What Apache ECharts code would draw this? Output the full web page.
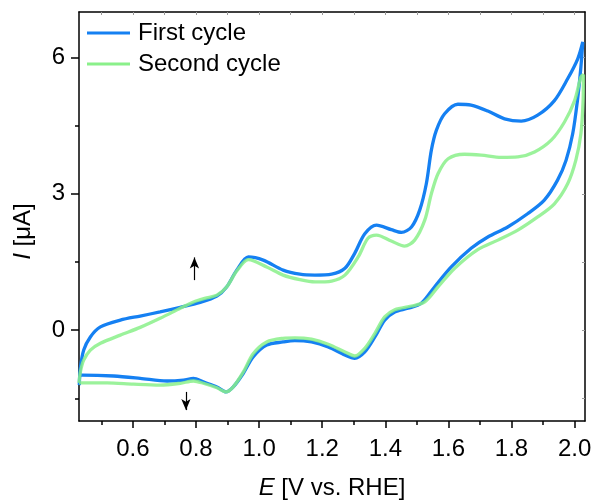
<!DOCTYPE html>
<html>
<head>
<meta charset="utf-8">
<script src="https://cdn.jsdelivr.net/npm/echarts@6/dist/echarts.min.js"></script>
<style>
  html, body { margin: 0; padding: 0; background: #fff; }
  #main { width: 595px; height: 500px; }
</style>
</head>
<body>
<div id="main"></div>
<script>
// potential (V vs. RHE) and current (uA), anodic sweep then cathodic sweep
var firstE = [0.430, 0.433, 0.444, 0.465, 0.497, 0.560, 0.623, 0.686, 0.750, 0.813, 0.866, 0.897, 0.929, 0.966,
  1.013, 1.076, 1.129, 1.177, 1.230, 1.272, 1.303, 1.335, 1.372, 1.419, 1.451, 1.483, 1.509, 1.530, 1.546, 1.562,
  1.588, 1.630, 1.672, 1.725, 1.778, 1.831, 1.883, 1.936, 1.978, 2.010, 2.026,
  2.020, 2.009, 1.994, 1.973, 1.946, 1.904, 1.851, 1.788, 1.725, 1.672, 1.609, 1.556, 1.514, 1.472, 1.430, 1.398,
  1.367, 1.335, 1.303, 1.272, 1.219, 1.166, 1.113, 1.076, 1.024, 0.981, 0.950, 0.918, 0.895, 0.866, 0.823, 0.792,
  0.760, 0.708, 0.623, 0.539, 0.439, 0.430];
var firstI = [-1.21, -0.85, -0.44, -0.15, 0.07, 0.22, 0.31, 0.40, 0.50, 0.61, 0.75, 0.95, 1.32, 1.61,
  1.54, 1.32, 1.23, 1.21, 1.23, 1.36, 1.69, 2.12, 2.31, 2.21, 2.15, 2.27, 2.64, 3.22, 3.96, 4.40,
  4.76, 4.97, 4.95, 4.82, 4.65, 4.60, 4.73, 5.05, 5.53, 5.97, 6.34,
  5.79, 5.05, 4.32, 3.74, 3.30, 2.86, 2.56, 2.27, 2.05, 1.80, 1.39, 0.95, 0.59, 0.48, 0.40, 0.22,
  -0.15, -0.48, -0.62, -0.55, -0.37, -0.26, -0.23, -0.26, -0.33, -0.59, -0.95, -1.25, -1.36, -1.25, -1.14, -1.06,
  -1.10, -1.12, -1.06, -1.01, -0.99, -1.00];

var secondE = [0.429, 0.434, 0.444, 0.465, 0.497, 0.560, 0.623, 0.686, 0.750, 0.792, 0.834, 0.866, 0.897, 0.929,
  0.966, 1.024, 1.076, 1.129, 1.177, 1.230, 1.272, 1.314, 1.345, 1.372, 1.419, 1.461, 1.493, 1.525, 1.546, 1.567,
  1.599, 1.651, 1.704, 1.767, 1.820, 1.873, 1.926, 1.968, 2.000, 2.020, 2.028,
  2.027, 2.020, 2.004, 1.978, 1.936, 1.883, 1.820, 1.757, 1.693, 1.620, 1.567, 1.525, 1.483, 1.430, 1.398,
  1.367, 1.335, 1.303, 1.272, 1.219, 1.166, 1.113, 1.076, 1.024, 0.981, 0.950, 0.918, 0.895, 0.866, 0.823, 0.792,
  0.750, 0.686, 0.602, 0.518, 0.429];
var secondI = [-1.16, -0.90, -0.66, -0.44, -0.29, -0.11, 0.06, 0.26, 0.48, 0.62, 0.71, 0.77, 0.95, 1.30,
  1.55, 1.39, 1.21, 1.11, 1.06, 1.08, 1.21, 1.61, 2.02, 2.09, 1.96, 1.85, 1.98, 2.42, 3.00, 3.44,
  3.77, 3.87, 3.85, 3.80, 3.81, 3.92, 4.18, 4.58, 5.05, 5.57, 5.62,
  5.05, 4.32, 3.74, 3.22, 2.78, 2.49, 2.20, 1.98, 1.77, 1.36, 0.95, 0.62, 0.53, 0.45, 0.29,
  -0.07, -0.40, -0.57, -0.48, -0.31, -0.20, -0.17, -0.18, -0.26, -0.52, -0.92, -1.25, -1.36, -1.27, -1.17, -1.12,
  -1.17, -1.21, -1.19, -1.16, -1.16];

var xMajor = [0.6, 0.8, 1.0, 1.2, 1.4, 1.6, 1.8, 2.0];
var xMinor = [0.5, 0.7, 0.9, 1.1, 1.3, 1.5, 1.7, 1.9];
var yMajor = [0, 3, 6];
var yMinor = [-1.5, 1.5, 4.5];

// growth arrows: [E, I start, I end]
var arrowUp = [0.795, 1.10, 1.60];
var arrowDown = [0.768, -1.36, -1.76];

function zip(a, b) {
  var out = [];
  for (var i = 0; i < a.length; i++) out.push([a[i], b[i]]);
  return out;
}

var font = "'Liberation Sans', Arial, sans-serif";
var xAll = xMinor.concat(xMajor).sort(function (a, b) { return a - b; });
var yAll = yMinor.concat(yMajor).sort(function (a, b) { return a - b; });

var myChart = echarts.init(document.getElementById('main'));

var option = {
  animation: false,
  grid: { left: 79, right: 10, top: 12, bottom: 79, outerBoundsMode: 'none', containLabel: false },
  legend: {
    left: 87, top: 21, orient: 'vertical', padding: 0,
    icon: 'rect', itemWidth: 43, itemHeight: 3, itemGap: 7,
    textStyle: { fontFamily: font, fontSize: 24, color: '#000', lineHeight: 24, padding: [0, 0, 0, 3] },
    data: ['First cycle', 'Second cycle']
  },
  xAxis: [{
    type: 'value', min: 0.429, max: 2.033, position: 'bottom',
    name: '{i|E} [V vs. RHE]', nameLocation: 'middle', nameGap: 55,
    nameTextStyle: { fontFamily: font, fontSize: 24, color: '#000', rich: { i: { fontStyle: 'italic', fontFamily: font, fontSize: 24 } } },
    axisLine: { onZero: false, lineStyle: { color: '#000', width: 1.5 } },
    axisTick: { customValues: xMajor, length: 7, lineStyle: { color: '#000', width: 1.5 } },
    axisLabel: { customValues: xMajor, margin: 16, fontFamily: font, fontSize: 24, color: '#000',
      formatter: function (v) { return v.toFixed(1); } },
    splitLine: { show: false }
  }, {
    type: 'value', min: 0.429, max: 2.033, position: 'bottom',
    axisLine: { show: false, onZero: false },
    axisTick: { customValues: xMinor, length: 4, lineStyle: { color: '#000', width: 1.5 } },
    axisLabel: { show: false }, splitLine: { show: false }
  }, {
    type: 'value', min: 0.429, max: 2.033, position: 'top',
    axisLine: { onZero: false, lineStyle: { color: '#000', width: 1.5 } },
    axisTick: { customValues: xAll, inside: true, length: 3, lineStyle: { color: '#999', width: 1 } },
    axisLabel: { show: false }, splitLine: { show: false }
  }],
  yAxis: [{
    type: 'value', min: -2, max: 7, position: 'left',
    name: '{i|I} [μA]', nameLocation: 'middle', nameGap: 44,
    nameTextStyle: { fontFamily: font, fontSize: 24, color: '#000', padding: [0, 30, 0, 0],
      rich: { i: { fontStyle: 'italic', fontFamily: font, fontSize: 24 } } },
    axisLine: { onZero: false, lineStyle: { color: '#000', width: 1.5 } },
    axisTick: { customValues: yMajor, length: 8, lineStyle: { color: '#000', width: 1.5 } },
    axisLabel: { customValues: yMajor, margin: 14, fontFamily: font, fontSize: 24, color: '#000' },
    splitLine: { show: false }
  }, {
    type: 'value', min: -2, max: 7, position: 'left',
    axisLine: { show: false, onZero: false },
    axisTick: { customValues: yMinor, length: 4, lineStyle: { color: '#000', width: 1.5 } },
    axisLabel: { show: false }, splitLine: { show: false }
  }, {
    type: 'value', min: -2, max: 7, position: 'right',
    axisLine: { onZero: false, lineStyle: { color: '#000', width: 1.5 } },
    axisTick: { customValues: yAll, inside: true, length: 3, lineStyle: { color: '#999', width: 1 } },
    axisLabel: { show: false }, splitLine: { show: false }
  }],
  series: [{
    name: 'First cycle', type: 'line', symbol: 'none', smooth: 0.3,
    lineStyle: { color: '#1580f2', width: 3.3 }, itemStyle: { color: '#1580f2' },
    data: zip(firstE, firstI),
    markLine: {
      silent: true, symbol: ['none', 'arrow'], symbolSize: [7, 11],
      label: { show: false },
      lineStyle: { color: '#000', width: 1.2, type: 'solid' },
      data: [
        [{ coord: [arrowUp[0], arrowUp[1]] }, { coord: [arrowUp[0], arrowUp[2]] }],
        [{ coord: [arrowDown[0], arrowDown[1]] }, { coord: [arrowDown[0], arrowDown[2]] }]
      ]
    }
  }, {
    name: 'Second cycle', type: 'line', symbol: 'none', smooth: 0.3,
    lineStyle: { color: '#8af08a', width: 3.3, opacity: 0.85 }, itemStyle: { color: '#8af08a' },
    data: zip(secondE, secondI)
  }]
};
myChart.setOption(option);
</script>
</body>
</html>
